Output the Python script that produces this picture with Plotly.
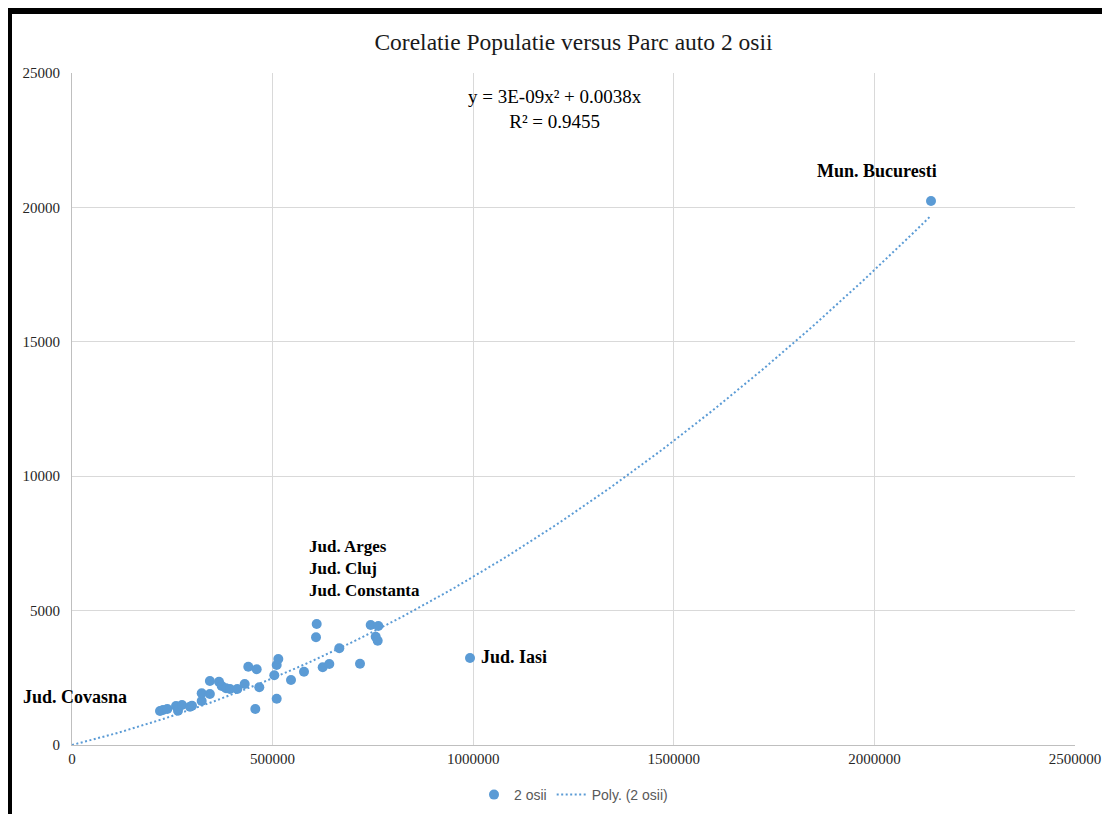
import numpy as np
import plotly.graph_objects as go

# Population (x) vs. 2-axle vehicle fleet (y)
populatie = [219340, 226820, 237540, 259220, 264200, 274180, 294120, 299100,
             323280, 323280, 343660, 343660, 366400, 373130, 383850, 393800,
             412000, 430460, 439430, 460370, 456880, 466850, 504240, 510220,
             510220, 514210, 545860, 578260, 624870, 641320, 609920, 608170,
             666250, 717840, 744510, 763450, 756970, 761950, 992020, 2141080]
parc_2_osii = [1265, 1302, 1339, 1451, 1276, 1488, 1425, 1462,
               1637, 1923, 1897, 2381, 2355, 2195, 2109, 2083,
               2083, 2269, 2913, 2816, 1339, 2146, 2593, 1722,
               2976, 3199, 2418, 2727, 2890, 3013, 4501, 4006,
               3597, 3024, 4464, 4427, 4029, 3880, 3236, 20237]

x_ticks = [0, 500000, 1000000, 1500000, 2000000, 2500000]
y_ticks = [0, 5000, 10000, 15000, 20000, 25000]

title_text = "Corelatie Populatie versus Parc auto 2 osii"
eq_text = "y = 3E-09x² + 0.0038x<br>R² = 0.9455"

# polynomial (order 2) trendline through origin, least squares
X = np.array(populatie, dtype=float)
Y = np.array(parc_2_osii, dtype=float)
A = np.column_stack([X**2, X])
coef, *_ = np.linalg.lstsq(A, Y, rcond=None)
xs = np.linspace(0, X.max(), 200)
ys = coef[0] * xs**2 + coef[1] * xs

BLUE = "#5B9BD5"
SERIF = "Liberation Serif"

fig = go.Figure()
fig.add_trace(go.Scatter(x=populatie, y=parc_2_osii, mode="markers", name="2 osii",
                         marker=dict(color=BLUE, size=10), cliponaxis=False))
fig.add_trace(go.Scatter(x=xs, y=ys, mode="lines", name="Poly. (2 osii)",
                         line=dict(color=BLUE, width=2, dash="2px,2.5px")))

lab_font = dict(family=SERIF, size=18, color="black")
idx_cov = 0
idx_bucu = len(populatie) - 1
idx_iasi = len(populatie) - 2
idx_arges = 30
fig.add_annotation(x=populatie[idx_cov], y=parc_2_osii[idx_cov], text="<b>Jud. Covasna</b>",
                   showarrow=False, xanchor="right", yanchor="middle", xshift=-31, yshift=14, font=lab_font)
fig.add_annotation(x=populatie[idx_bucu], y=parc_2_osii[idx_bucu], text="<b>Mun. Bucuresti</b>",
                   showarrow=False, xanchor="center", yanchor="middle", xshift=-54, yshift=30, font=lab_font)
fig.add_annotation(x=populatie[idx_iasi], y=parc_2_osii[idx_iasi], text="<b>Jud. Iasi</b>",
                   showarrow=False, xanchor="left", yanchor="middle", xshift=9, yshift=1, font=lab_font)
fig.add_annotation(x=populatie[idx_arges], y=parc_2_osii[idx_arges],
                   text="<b>Jud. Arges</b><br><b>Jud. Cluj</b><br><b>Jud. Constanta</b>",
                   showarrow=False, xanchor="left", yanchor="middle", align="left",
                   xshift=-10, yshift=56, font=dict(family=SERIF, size=17, color="black"))
fig.add_annotation(x=1203900, y=23650, text=eq_text, showarrow=False, align="center",
                   xanchor="center", yanchor="middle", font=dict(family=SERIF, size=19, color="black"))

# page pixel -> paper coords (figure is placed at an 8px page offset)
def px_x(p): return (p - 72) / 1003
def px_y(p): return (745 - p) / 672
# black frame (left and top)
fig.add_shape(type="rect", xref="paper", yref="paper", x0=px_x(8), x1=px_x(12),
              y0=px_y(830), y1=px_y(8), fillcolor="black", line=dict(width=0), layer="above")
fig.add_shape(type="rect", xref="paper", yref="paper", x0=px_x(8), x1=px_x(1120),
              y0=px_y(14), y1=px_y(8), fillcolor="black", line=dict(width=0), layer="above")

axis_common = dict(showgrid=True, gridcolor="#D9D9D9", gridwidth=1, zeroline=False,
                   showline=True, linecolor="#BFBFBF", linewidth=1, ticks="",
                   tickfont=dict(family=SERIF, size=15, color="#262626"), tickformat="d",
                   automargin=False)
fig.update_xaxes(range=[0, 2500000], tickvals=x_ticks, **axis_common)
fig.update_yaxes(range=[0, 25000], tickvals=y_ticks, ticklabelstandoff=8, **axis_common)

fig.update_layout(
    width=1102, height=806, autosize=False,
    margin=dict(l=64, r=35, t=65, b=69, autoexpand=False),
    paper_bgcolor="white", plot_bgcolor="white",
    title=dict(text=title_text, x=0.5, xref="paper", y=1 - 34 / 806, yref="container",
               yanchor="middle", xanchor="center", font=dict(family=SERIF, size=23.5, color="#1a1a1a")),
    legend=dict(orientation="h", x=0.5, xanchor="center", y=px_y(795), yanchor="middle",
                font=dict(family="Liberation Sans", size=14, color="#595959")),
    showlegend=True,
)

fig.write_html("out.html")
